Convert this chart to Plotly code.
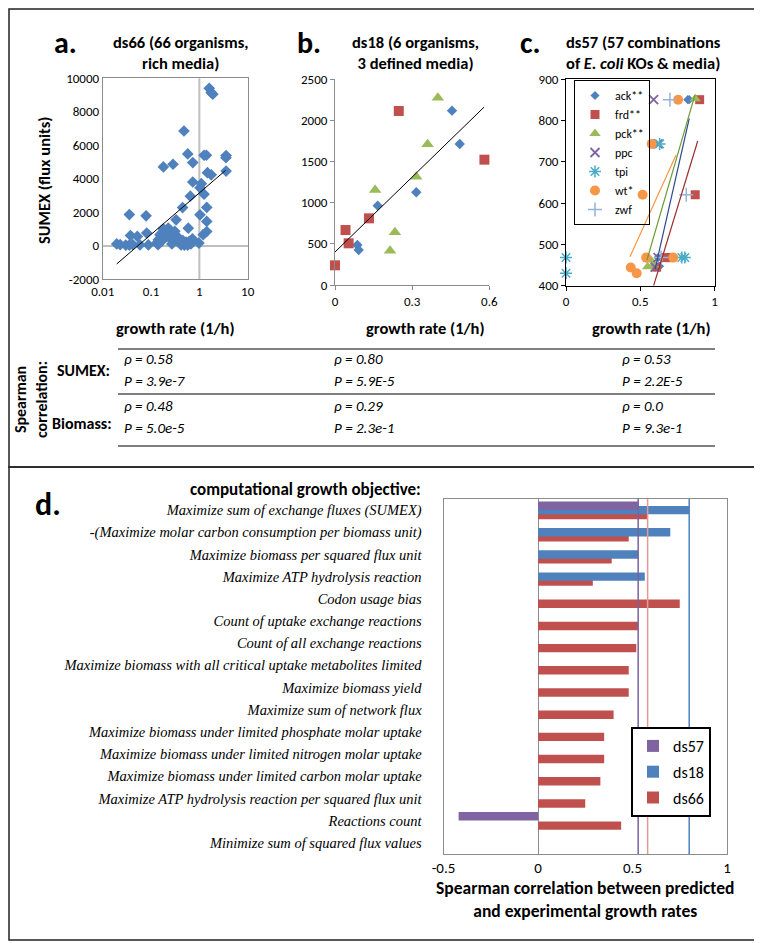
import plotly.graph_objects as go

W, H = 762, 943
# the page body adds an 8px margin, so reference pixels are shifted back by it
OX, OY = 8, 8
FONT = "Carlito, Lato, sans-serif"
SERIF = "Liberation Serif, Times New Roman, serif"

BLUE = "#4F81BD"
RED = "#C0504D"
GREEN = "#9BBB59"
PURPLE = "#8064A2"
TEAL = "#4BACC6"
ORANGE = "#F79646"
LIGHTBLUE = "#95B3D7"
AXIS_GREY = "#8C8C8C"

# ---- panel a: ds66, SUMEX vs growth rate (log x)
a_rate = [1.6, 1.75, 1.9, 0.48, 0.575, 1.25, 1.4, 3.57, 3.55, 0.285,
          0.18, 0.73, 1.47, 1.76, 3.57, 0.73, 1.03, 1.1, 1.25, 0.65,
          1.42, 0.45, 0.0356, 0.079, 1.03, 0.33, 0.59, 1.42, 1.42, 0.0195,
          0.030, 0.0356, 0.0418, 0.0375, 0.052, 0.059, 0.0815, 0.088, 0.131, 0.142,
          0.153, 0.166, 0.179, 0.194, 0.21, 0.227, 0.245, 0.265, 0.31, 0.362,
          0.39, 0.42, 0.455, 0.49, 0.53, 0.575, 0.62, 0.67, 0.72, 0.98,
          1.2, 0.165, 0.14, 0.35, 0.023, 0.27]
a_sumex = [9400, 9150, 9050, 6850, 5480, 5400, 5400, 5380, 5250, 4860,
           4700, 4960, 4360, 4230, 4450, 3800, 3450, 3700, 3070, 2950,
           2280, 2270, 1850, 1780, 1840, 1540, 1040, 1440, 840, 100,
           30, 30, 60, 600, 545, 40, 745, 40, 150, 350,
           650, 450, 1000, 850, 550, 1050, 700, 350, 850, 500,
           150, 40, 300, 30, 200, 30, 250, 100, 400, 150,
           650, 250, 50, 300, 50, 100]
a_trend_rate = [0.0195, 3.5]
a_trend_sumex = [-1100, 4500]
a_yticks = [-2000, 0, 2000, 4000, 6000, 8000, 10000]

# ---- panel b: ds18, three media
b_blue_rate = [0.087, 0.092, 0.166, 0.316, 0.455, 0.485]
b_blue_sumex = [485, 425, 963, 1125, 2116, 1711]
b_red_rate = [0.0, 0.041, 0.053, 0.132, 0.248, 0.581]
b_red_sumex = [239, 667, 506, 809, 2112, 1521]
b_green_rate = [0.156, 0.214, 0.233, 0.316, 0.36, 0.40]
b_green_sumex = [1153, 417, 639, 1315, 1707, 2273]
b_trend_rate = [0.0, 0.58]
b_trend_sumex = [400, 2160]

# ---- panel c: ds57, E. coli knockouts
c_names = ["ack**", "frd**", "pck**", "ppc", "tpi", "wt*", "zwf"]
c_rate = [
    [0.82, 0.83, 0.62, 0.63, 0.60],
    [0.90, 0.87, 0.68, 0.70, 0.61],
    [0.87, 0.55, 0.57, 0.59],
    [0.59, 0.62, 0.60, 0.62],
    [0.0, 0.0, 0.63, 0.78, 0.80],
    [0.755, 0.577, 0.516, 0.54, 0.436, 0.476, 0.722],
    [0.70, 0.81, 0.64],
]
c_sumex = [
    [850, 850, 468, 447, 445],
    [850, 620, 468, 468, 445],
    [852, 446, 462, 450],
    [850, 743, 445, 468],
    [468, 430, 743, 468, 468],
    [850, 743, 620, 468, 444, 430, 468],
    [850, 620, 468],
]
c_trend_names = ["ack**", "frd**", "pck**", "wt*"]
c_trend_rate = [[0.60, 0.83], [0.59, 0.887], [0.545, 0.868], [0.431, 0.741]]
c_trend_sumex = [[440, 805], [400, 750], [462, 861], [470, 716]]

# ---- table of Spearman correlations
table_cols = ["ds66", "ds18", "ds57"]
sumex_rho = ["0.58", "0.80", "0.53"]
sumex_p = ["3.9e-7", "5.9E-5", "2.2E-5"]
biomass_rho = ["0.48", "0.29", "0.0"]
biomass_p = ["5.0e-5", "2.3e-1", "9.3e-1"]

# ---- panel d: objectives
objectives = [
    "Maximize sum of exchange fluxes (SUMEX)",
    "-(Maximize molar carbon consumption per biomass unit)",
    "Maximize biomass per squared flux unit",
    "Maximize ATP hydrolysis reaction",
    "Codon usage bias",
    "Count of uptake exchange reactions",
    "Count of all exchange reactions",
    "Maximize biomass with all critical uptake metabolites limited",
    "Maximize biomass yield",
    "Maximize sum of network flux",
    "Maximize biomass under limited phosphate molar uptake",
    "Maximize biomass under limited nitrogen molar uptake",
    "Maximize biomass under limited carbon molar uptake",
    "Maximize ATP hydrolysis reaction per squared flux unit",
    "Reactions count",
    "Minimize sum of squared flux values",
]
d_ds66 = [0.58, 0.48, 0.39, 0.29, 0.75, 0.53, 0.52, 0.48,
          0.48, 0.40, 0.35, 0.35, 0.33, 0.25, 0.44, None]
d_ds18 = [0.80, 0.70, 0.53, 0.565, None, None, None, None,
          None, None, None, None, None, None, None, None]
d_ds57 = [0.53, None, None, None, None, None, None, None,
          None, None, None, None, None, None, -0.42, None]


def px(x):
    return (x - OX) / W


def py(y):
    return 1 - (y - OY) / H


def xdom(left, right):
    return [px(left), px(right)]


def ydom(top, bottom):
    return [py(bottom), py(top)]


def note(x, y, text, size=15, xanchor="center", family=FONT, angle=0):
    return dict(x=px(x), y=py(y), xref="paper", yref="paper", text=text,
                showarrow=False, xanchor=xanchor, yanchor="middle",
                textangle=angle, font=dict(family=family, size=size, color="black"))


fig = go.Figure()

# panel a
fig.add_trace(go.Scatter(x=a_rate, y=a_sumex, mode="markers", showlegend=False,
                         marker=dict(symbol="diamond", size=9, color=BLUE),
                         xaxis="x", yaxis="y"))
fig.add_trace(go.Scatter(x=a_trend_rate, y=a_trend_sumex, mode="lines", showlegend=False,
                         line=dict(color="black", width=1), xaxis="x", yaxis="y"))

# panel b
for xs, ys, sym, col, sz in [(b_blue_rate, b_blue_sumex, "diamond", BLUE, 8),
                             (b_red_rate, b_red_sumex, "square", RED, 10),
                             (b_green_rate, b_green_sumex, "triangle-up", GREEN, 11)]:
    fig.add_trace(go.Scatter(x=xs, y=ys, mode="markers", showlegend=False, cliponaxis=False,
                             marker=dict(symbol=sym, size=sz, color=col),
                             xaxis="x2", yaxis="y2"))
fig.add_trace(go.Scatter(x=b_trend_rate, y=b_trend_sumex, mode="lines", showlegend=False,
                         line=dict(color="black", width=1), xaxis="x2", yaxis="y2"))

# panel c
c_style = {
    "ack**": ("diamond", 7, BLUE, 0),
    "frd**": ("square", 9, RED, 0),
    "pck**": ("triangle-up", 10, GREEN, 0),
    "ppc": ("x-thin-open", 9, PURPLE, 1.8),
    "tpi": ("asterisk-open", 10, TEAL, 1.5),
    "wt*": ("circle", 10, ORANGE, 0),
    "zwf": ("cross-thin-open", 10, LIGHTBLUE, 1.5),
}
for name, xs, ys in zip(c_names, c_rate, c_sumex):
    sym, sz, col, lw = c_style[name]
    fig.add_trace(go.Scatter(x=xs, y=ys, mode="markers", name=name, legend="legend",
                             cliponaxis=False,
                             marker=dict(symbol=sym, size=sz, color=col,
                                         line=dict(width=lw, color=col)),
                             xaxis="x3", yaxis="y3"))
trend_colors = {"ack**": "#2B4C8C", "frd**": "#9B2D2A", "pck**": "#6E9A35", "wt*": ORANGE}
for name, xs, ys in zip(c_trend_names, c_trend_rate, c_trend_sumex):
    fig.add_trace(go.Scatter(x=xs, y=ys, mode="lines", showlegend=False,
                             line=dict(color=trend_colors[name], width=1.2),
                             xaxis="x3", yaxis="y3"))

# panel d, drawn ds66 first so later series sit on top
bar_w = 0.38
for name, vals, col, centre, rank in [("ds66", d_ds66, RED, 0.22, 3),
                                      ("ds18", d_ds18, BLUE, 0.0, 2),
                                      ("ds57", d_ds57, PURPLE, -0.2, 1)]:
    fig.add_trace(go.Bar(x=vals, y=objectives, orientation="h", name=name,
                         legend="legend2", legendgroup=name, legendrank=rank,
                         width=bar_w, offset=centre - bar_w / 2,
                         marker=dict(color=col, line=dict(width=0)),
                         xaxis="x4", yaxis="y4"))

shapes = []
# axis crossing line in panel a
shapes.append(dict(type="line", xref="x", yref="y domain", x0=1, x1=1, y0=0, y1=1,
                   line=dict(color="#BFBFBF", width=2), layer="below"))
# SUMEX reference lines in panel d
for vals, col in [(d_ds57, "#7A62A0"), (d_ds66, "#E59A98"), (d_ds18, BLUE)]:
    shapes.append(dict(type="line", xref="x4", yref="y4 domain", x0=vals[0], x1=vals[0],
                       y0=0, y1=1, line=dict(color=col, width=1.5)))
# outer frames (kept just inside the visible page area)
for top, bottom in [(9, 467), (467, 940)]:
    shapes.append(dict(type="rect", xref="paper", yref="paper", x0=px(9), x1=px(758),
                       y0=py(bottom), y1=py(top),
                       line=dict(color="#222222", width=1.5)))
# table rules
for yy in [349, 394, 446]:
    shapes.append(dict(type="line", xref="paper", yref="paper", x0=px(118), x1=px(715),
                       y0=py(yy), y1=py(yy), line=dict(color="black", width=1)))

annotations = [
    note(65, 42, "<b>a.</b>", size=30),
    note(309, 42, "<b>b.</b>", size=30),
    note(530, 42, "<b>c.</b>", size=30),
    note(48, 505, "<b>d.</b>", size=32),
    note(180, 53, "<b>ds66 (66 organisms,<br>rich media)</b>", size=16.5),
    note(415, 53, "<b>ds18 (6 organisms,<br>3 defined media)</b>", size=16.5),
    note(643, 53, "<b>ds57 (57 combinations<br>of <i>E. coli</i> KOs & media)</b>", size=16.5),
    note(44, 180, "<b>SUMEX (flux units)</b>", size=16.5, angle=-90),
    note(175, 328, "<b>growth rate (1/h)</b>", size=16.5),
    note(425, 328, "<b>growth rate (1/h)</b>", size=16.5),
    note(651, 328, "<b>growth rate (1/h)</b>", size=16.5),
    note(31, 400, "<b>Spearman<br>correlation:</b>", size=16, angle=-90),
    note(112, 370, "<b>SUMEX:</b>", size=16, xanchor="right"),
    note(114, 423, "<b>Biomass:</b>", size=16, xanchor="right"),
    note(423, 490, "<b>computational growth objective:</b>", size=17, xanchor="right"),
]
col_left = [122, 332, 620]
for i in range(len(table_cols)):
    annotations.append(note(col_left[i], 359, "<i>\u03c1 = " + sumex_rho[i] + "</i>", xanchor="left"))
    annotations.append(note(col_left[i], 381, "<i>P = " + sumex_p[i] + "</i>", xanchor="left"))
    annotations.append(note(col_left[i], 406, "<i>\u03c1 = " + biomass_rho[i] + "</i>", xanchor="left"))
    annotations.append(note(col_left[i], 428, "<i>P = " + biomass_p[i] + "</i>", xanchor="left"))

tickfont = dict(family=FONT, size=13, color="black")

fig.update_layout(
    width=W, height=H,
    margin=dict(l=0, r=0, t=0, b=0, autoexpand=False),
    paper_bgcolor="white", plot_bgcolor="white",
    font=dict(family=FONT, color="black"),
    barmode="overlay",
    shapes=shapes,
    annotations=annotations,
    xaxis=dict(domain=xdom(102.7, 247.7), anchor="y", type="log", range=[-2, 1],
               tickvals=[0.01, 0.1, 1, 10], ticktext=["0.01", "0.1", "1", "10"],
               showline=True, mirror=True, linecolor=AXIS_GREY, showgrid=False,
               zeroline=False, ticks="", tickfont=tickfont, automargin=False),
    yaxis=dict(domain=ydom(78.3, 279), anchor="x", range=[-2000, 10000],
               tickvals=a_yticks, ticktext=[str(v) for v in a_yticks],
               showline=True, mirror=True, linecolor=AXIS_GREY, showgrid=False,
               zeroline=True, zerolinecolor="#BFBFBF", zerolinewidth=2,
               ticks="", tickfont=tickfont, automargin=False),
    xaxis2=dict(domain=xdom(335, 489.3), anchor="y2", range=[0, 0.6],
                tickvals=[0, 0.3, 0.6], showline=True, linecolor=AXIS_GREY,
                showgrid=False, zeroline=False, ticks="outside", ticklen=4,
                tickcolor=AXIS_GREY, tickfont=tickfont, automargin=False),
    yaxis2=dict(domain=ydom(79, 285), anchor="x2", range=[0, 2500], dtick=500,
                showline=True, linecolor=AXIS_GREY, showgrid=False, zeroline=False,
                ticks="outside", ticklen=4, tickcolor=AXIS_GREY, tickfont=tickfont,
                automargin=False),
    xaxis3=dict(domain=xdom(566, 714.5), anchor="y3", range=[0, 1],
                tickvals=[0, 0.5, 1], showline=True, mirror=True, linecolor="black",
                showgrid=False, zeroline=False, ticks="outside", ticklen=4,
                tickcolor="black", tickfont=tickfont, automargin=False),
    yaxis3=dict(domain=ydom(79, 285.7), anchor="x3", range=[400, 900], dtick=100,
                showline=True, mirror=True, linecolor="black", showgrid=False,
                zeroline=False, ticks="outside", ticklen=4, tickcolor="black",
                tickfont=tickfont, automargin=False),
    xaxis4=dict(domain=xdom(443.5, 727), anchor="y4", range=[-0.5, 1],
                tickvals=[-0.5, 0, 0.5, 1], ticktext=["-0.5", "0", "0.5", "1"],
                showline=True, mirror=True, linecolor=AXIS_GREY, showgrid=False,
                zeroline=True, zerolinecolor=AXIS_GREY, zerolinewidth=1,
                ticks="", tickfont=dict(family=FONT, size=15, color="black"),
                automargin=False,
                title=dict(text="<b>Spearman correlation between predicted<br>"
                                "and experimental growth rates</b>",
                           font=dict(family=FONT, size=17.5, color="black"), standoff=1)),
    yaxis4=dict(domain=ydom(499, 854), anchor="x4", type="category",
                categoryorder="array", categoryarray=objectives,
                range=[len(objectives) - 0.5, -0.5],
                showline=True, mirror=True, linecolor=AXIS_GREY, showgrid=False,
                ticks="", ticklabelstandoff=18, automargin=False,
                tickfont=dict(family=SERIF, size=14.5, color="black", style="italic")),
    legend=dict(x=px(574), y=py(80), xanchor="left", yanchor="top",
                bgcolor="rgba(255,255,255,0)", bordercolor="black", borderwidth=1,
                font=dict(family=FONT, size=12, color="black"),
                itemwidth=30, tracegroupgap=0),
    legend2=dict(x=px(631), y=py(727), xanchor="left", yanchor="top",
                 bgcolor="white", bordercolor="black", borderwidth=2,
                 traceorder="grouped", tracegroupgap=2,
                 font=dict(family=FONT, size=16, color="black"), itemwidth=30),
)

fig.write_html("out.html")
